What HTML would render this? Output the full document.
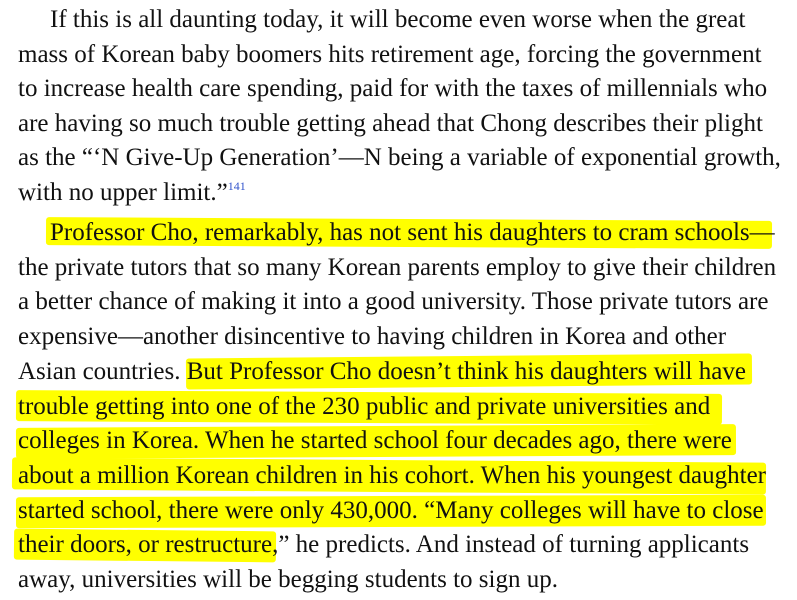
<!DOCTYPE html>
<html><head><meta charset="utf-8"><style>
body{margin:0;width:797px;height:600px;background:#fff;position:relative;overflow:hidden;font-family:"Liberation Serif",serif;font-size:25px;color:#111}
.l{position:absolute;left:18px;height:34px;line-height:34px;white-space:nowrap}
.h{position:absolute;background:#ffff00;border-radius:3px}
sup{font-size:12px;color:#3355cc;position:relative;top:-10px;vertical-align:baseline;line-height:0}
</style></head><body>
<div class="h" style="left:46px;top:219px;width:726px;height:28px;transform:rotate(0.3deg)"></div>
<div class="h" style="left:186px;top:356px;width:566px;height:31px;transform:rotate(-0.5deg)"></div>
<div class="h" style="left:16px;top:392px;width:706px;height:31px;transform:rotate(0.3deg)"></div>
<div class="h" style="left:16px;top:426px;width:720px;height:31px;transform:rotate(-0.3deg)"></div>
<div class="h" style="left:12px;top:460px;width:754px;height:32px;transform:rotate(0.4deg)"></div>
<div class="h" style="left:16px;top:496px;width:750px;height:31px;transform:rotate(-0.2deg)"></div>
<div class="h" style="left:14px;top:530px;width:262px;height:31px;transform:rotate(0.6deg)"></div>

<div>
<div class="l" style="top:3px;left:50px">If this is all daunting today, it will become even worse when the great</div>
<div class="l" style="top:38px">mass of Korean baby boomers hits retirement age, forcing the government</div>
<div class="l" style="top:72px">to increase health care spending, paid for with the taxes of millennials who</div>
<div class="l" style="top:107px">are having so much trouble getting ahead that Chong describes their plight</div>
<div class="l" style="top:141px">as the “‘N Give-Up Generation’—N being a variable of exponential growth,</div>
<div class="l" style="top:176px">with no upper limit.”<sup>141</sup></div>
</div>
<div>
<div class="l" style="top:216px;left:50px">Professor Cho, remarkably, has not sent his daughters to cram schools—</div>
<div class="l" style="top:251px">the private tutors that so many Korean parents employ to give their children</div>
<div class="l" style="top:285px">a better chance of making it into a good university. Those private tutors are</div>
<div class="l" style="top:320px">expensive—another disincentive to having children in Korea and other</div>
<div class="l" style="top:355px">Asian countries. But Professor Cho doesn’t think his daughters will have</div>
<div class="l" style="top:390px">trouble getting into one of the 230 public and private universities and</div>
<div class="l" style="top:424px">colleges in Korea. When he started school four decades ago, there were</div>
<div class="l" style="top:459px">about a million Korean children in his cohort. When his youngest daughter</div>
<div class="l" style="top:494px">started school, there were only 430,000. “Many colleges will have to close</div>
<div class="l" style="top:528px">their doors, or restructure,” he predicts. And instead of turning applicants</div>
<div class="l" style="top:563px">away, universities will be begging students to sign up.</div>
</div>
</body></html>
